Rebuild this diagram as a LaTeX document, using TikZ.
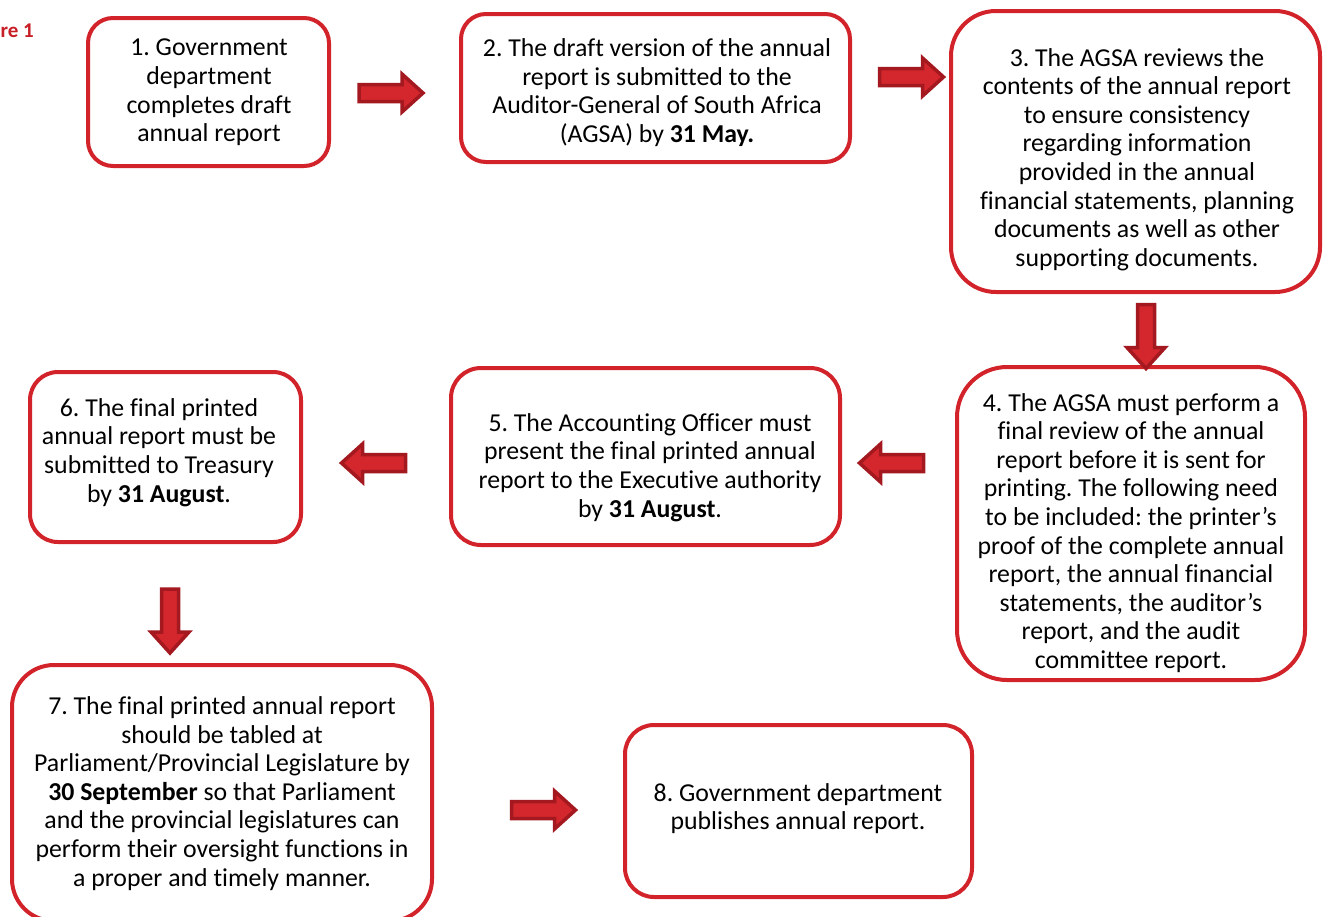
\documentclass[tikz,border=0pt]{standalone}
\usepackage{fontspec}
\setmainfont{Carlito}[Ligatures=NoCommon]
\frenchspacing
\definecolor{boxred}{RGB}{210,35,42}
\definecolor{arrfill}{RGB}{212,38,45}
\definecolor{arrdark}{RGB}{163,25,31}
\definecolor{figred}{RGB}{200,30,38}
\tikzset{
  stepbox/.style={draw=boxred, line width=4pt, fill=white, inner sep=0pt},
  steptext/.style={align=center, inner sep=0pt, font=\fontsize{25.8}{28.6}\selectfont, text=black},
  blockarrow/.pic={
    \draw[fill=arrfill, draw=arrdark, line width=3.5pt, line join=miter]
      (-32,-8.5) -- (11,-8.5) -- (11,-19) -- (32,0) -- (11,19) -- (11,8.5) -- (-32,8.5) -- cycle;
  },
}
\begin{document}
\begin{tikzpicture}[x=1pt,y=-1pt]
\useasboundingbox (0,0) rectangle (1327,916);
% figure label (cropped as in the reference)
\node[anchor=east, inner sep=0pt, text=figred, font=\fontsize{21}{24}\selectfont\bfseries] (fig) at (34,31.5) {Figure 1};
% boxes
\node[stepbox, rounded corners=25pt, minimum width=241pt, minimum height=148pt] (b1) at (208.5,92) {};
\node[stepbox, rounded corners=25pt, minimum width=389pt, minimum height=148pt] (b2) at (655.5,88) {};
\node[stepbox, rounded corners=45pt, minimum width=369pt, minimum height=281pt] (b3) at (1135.5,151.5) {};
\node[stepbox, rounded corners=50pt, minimum width=348pt, minimum height=313pt] (b4) at (1131,523.5) {};
\node[stepbox, rounded corners=30pt, minimum width=389pt, minimum height=177pt] (b5) at (645.5,456.5) {};
\node[stepbox, rounded corners=28pt, minimum width=271pt, minimum height=170pt] (b6) at (165.5,457) {};
\node[stepbox, rounded corners=42pt, minimum width=420pt, minimum height=256pt] (b7) at (222,793) {};
\node[stepbox, rounded corners=29pt, minimum width=347pt, minimum height=172pt] (b8) at (798.5,811) {};
% texts
\node[steptext] (t1) at (209,92.5) {1. Government\\department\\completes draft\\annual report};
\node[steptext] (t2) at (657,92.5) {2. The draft version of the annual\\report is submitted to the\\Auditor-General of South Africa\\(AGSA) by \textbf{31 May.}};
\node[steptext] (t3) at (1137,159.5) {3. The AGSA reviews the\\contents of the annual report\\to ensure consistency\\regarding information\\provided in the annual\\financial statements, planning\\documents as well as other\\supporting documents.};
\node[steptext] (t4) at (1131,533) {4. The AGSA must perform a\\final review of the annual\\report before it is sent for\\printing. The following need\\to be included: the printer’s\\proof of the complete annual\\report, the annual financial\\statements, the auditor’s\\report, and the audit\\committee report.};
\node[steptext] (t5) at (650,467.5) {5. The Accounting Officer must\\present the final printed annual\\report to the Executive authority\\by \textbf{31 August}.};
\node[steptext] (t6) at (159,452.5) {6. The final printed\\annual report must be\\submitted to Treasury\\by \textbf{31 August}.};
\node[steptext] (t7) at (222,793.5) {7. The final printed annual report\\should be tabled at\\Parliament/Provincial Legislature by\\\textbf{30 September} so that Parliament\\and the provincial legislatures can\\perform their oversight functions in\\a proper and timely manner.};
\node[steptext] (t8) at (798,808.5) {8. Government department\\publishes annual report.};
% block arrows between the steps
\pic (a12) at (391,93) {blockarrow};
\pic (a23) at (911.5,77) {blockarrow};
\pic[rotate=-90] (a34) at (1146,336.5) {blockarrow};
\pic[rotate=180] (a45) at (891.5,463) {blockarrow};
\pic[rotate=180] (a56) at (373.5,463) {blockarrow};
\pic[rotate=-90] (a67) at (170,621) {blockarrow};
\pic (a78) at (543.5,810) {blockarrow};
\end{tikzpicture}
\end{document}
